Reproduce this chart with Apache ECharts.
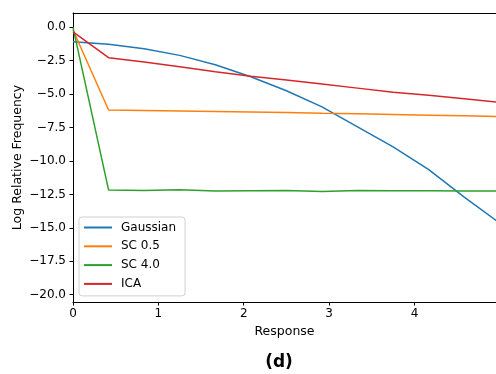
<!DOCTYPE html>
<html>
<head>
<meta charset="utf-8">
<script src="https://cdn.jsdelivr.net/npm/echarts@6/dist/echarts.min.js"></script>
<style>html,body{margin:0;padding:0;background:#fff}#c{width:496px;height:374px}</style>
</head>
<body>
<div id="c"></div>
<script>
const xs = [0, 0.417, 0.833, 1.25, 1.667, 2.083, 2.5, 2.917, 3.333, 3.75, 4.167, 4.583, 5.0];
const gaussian = [-1.08, -1.27, -1.6, -2.1, -2.8, -3.7, -4.75, -5.95, -7.45, -8.95, -10.65, -12.7, -14.65];
const sc05 = [-0.2, -6.19, -6.23, -6.27, -6.3, -6.34, -6.38, -6.43, -6.47, -6.52, -6.57, -6.62, -6.67];
const sc40 = [0.0, -12.18, -12.2, -12.16, -12.25, -12.22, -12.21, -12.28, -12.2, -12.22, -12.23, -12.24, -12.25];
const ica = [-0.35, -2.27, -2.6, -2.95, -3.32, -3.66, -3.95, -4.25, -4.55, -4.85, -5.08, -5.34, -5.62];
const seriesNames = ['Gaussian', 'SC 0.5', 'SC 4.0', 'ICA'];
const colors = ['#1f77b4', '#ff7f0e', '#2ca02c', '#d62728'];
const yTicks = [0, -2.5, -5, -7.5, -10, -12.5, -15, -17.5, -20];
const xTicks = [0, 1, 2, 3, 4];

const font = 'DejaVu Sans';
const fmt = v => (v < 0 ? '\u2212' : '') + Math.abs(v).toFixed(1);
const pairs = arr => xs.map((x, i) => [x, arr[i]]);
const all = [gaussian, sc05, sc40, ica];
const X_MIN = 0, X_MAX = 4.955, Y_MIN = -20.55, Y_MAX = 1.07;

const chart = echarts.init(document.getElementById('c'));
chart.setOption({
  animation: false,
  textStyle: { fontFamily: font },
  grid: { left: 73, right: 0, top: 13, bottom: 72, show: false, containLabel: false, outerBoundsMode: 'none' },
  xAxis: [{
    type: 'value', min: X_MIN, max: X_MAX,
    name: 'Response', nameLocation: 'middle', nameGap: 23, nameMoveOverlap: false,
    nameTextStyle: { fontFamily: font, fontSize: 12.5, color: '#000' },
    axisLine: { show: true, onZero: false, lineStyle: { color: '#000', width: 1 } },
    axisTick: { show: true, customValues: xTicks, length: 3.5, lineStyle: { color: '#000' } },
    axisLabel: { customValues: xTicks, fontFamily: font, fontSize: 12, color: '#000', margin: 6, formatter: v => String(v) },
    splitLine: { show: false }
  }, {
    type: 'value', min: X_MIN, max: X_MAX, position: 'top',
    axisLine: { show: true, onZero: false, lineStyle: { color: '#000', width: 1 } },
    axisTick: { show: false }, axisLabel: { show: false }, splitLine: { show: false }
  }],
  yAxis: {
    type: 'value', min: Y_MIN, max: Y_MAX,
    name: 'Log Relative Frequency', nameLocation: 'middle', nameGap: 49, nameMoveOverlap: false,
    nameTextStyle: { fontFamily: font, fontSize: 12.5, color: '#000' },
    axisLine: { show: true, onZero: false, lineStyle: { color: '#000', width: 1 } },
    axisTick: { show: true, customValues: yTicks, length: 3.5, lineStyle: { color: '#000' } },
    axisLabel: { customValues: yTicks, fontFamily: font, fontSize: 12, color: '#000', margin: 7, formatter: fmt },
    splitLine: { show: false }
  },
  legend: {
    orient: 'vertical', left: 79, top: 217,
    data: seriesNames,
    icon: 'rect', itemWidth: 28, itemHeight: 2, itemGap: 4.8,
    padding: [3.5, 9, 5, 5],
    borderColor: '#d0d0d0', borderWidth: 1, borderRadius: 3,
    backgroundColor: 'rgba(255,255,255,0.8)',
    textStyle: { fontFamily: font, fontSize: 12, lineHeight: 14, color: '#000', padding: [0, 0, 0, 4] }
  },
  series: all.map((arr, i) => ({
    name: seriesNames[i], type: 'line', data: pairs(arr),
    showSymbol: false, symbol: 'none', clip: true,
    lineStyle: { color: colors[i], width: 1.5 },
    itemStyle: { color: colors[i] }
  })),
  graphic: [{
    type: 'text', x: 279, y: 363,
    style: { text: '(d)', fontFamily: font, fontSize: 17, fontWeight: 'bold', fill: '#000', align: 'center', verticalAlign: 'middle' }
  }]
});
</script>
</body>
</html>
